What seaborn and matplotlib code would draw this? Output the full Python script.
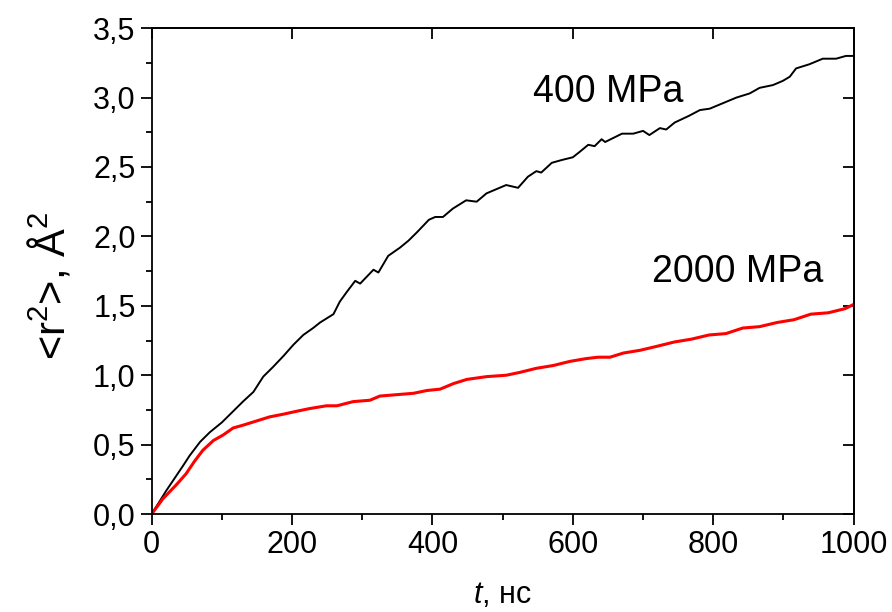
import numpy as np
import pandas as pd
import matplotlib
matplotlib.use("Agg")
import matplotlib.pyplot as plt
import seaborn as sns
from matplotlib.ticker import MultipleLocator, FuncFormatter, NullLocator, NullFormatter

# 400 MPa curve (t in ns, <r^2> in A^2)
t_400 = [0, 21, 45, 54, 69, 83, 100, 116, 130, 145, 159, 173, 188, 202, 216, 230,
         240, 259, 268, 278, 290, 297, 316, 323, 337, 354, 366, 378, 395, 404, 415,
         429, 448, 463, 477, 491, 505, 522, 536, 548, 555, 570, 584, 600, 610, 622,
         631, 641, 646, 658, 670, 686, 700, 709, 724, 733, 745, 766, 781, 795, 814,
         833, 852, 866, 885, 899, 909, 918, 937, 956, 975, 989, 1000]
r2_400 = [0.00, 0.17, 0.35, 0.42, 0.52, 0.59, 0.66, 0.74, 0.81, 0.88, 0.99, 1.06, 1.14,
          1.22, 1.29, 1.34, 1.38, 1.44, 1.53, 1.60, 1.68, 1.66, 1.76, 1.74, 1.86, 1.92,
          1.97, 2.03, 2.12, 2.14, 2.14, 2.20, 2.26, 2.25, 2.31, 2.34, 2.37, 2.35, 2.43,
          2.47, 2.46, 2.53, 2.55, 2.57, 2.61, 2.66, 2.65, 2.70, 2.68, 2.71, 2.74, 2.74,
          2.76, 2.73, 2.78, 2.77, 2.82, 2.87, 2.91, 2.92, 2.96, 3.00, 3.03, 3.07, 3.09,
          3.12, 3.15, 3.21, 3.24, 3.28, 3.28, 3.30, 3.30]

# 2000 MPa curve
t_2000 = [0, 16, 35, 49, 61, 73, 88, 102, 116, 130, 149, 168, 188, 206, 225, 249, 264,
          287, 311, 325, 349, 373, 392, 411, 430, 449, 477, 505, 524, 548, 572, 596,
          619, 636, 653, 672, 696, 721, 745, 769, 794, 818, 842, 866, 891, 915, 939,
          964, 988, 1000]
r2_2000 = [0.00, 0.11, 0.21, 0.29, 0.38, 0.46, 0.53, 0.57, 0.62, 0.64, 0.67, 0.70, 0.72,
           0.74, 0.76, 0.78, 0.78, 0.81, 0.82, 0.85, 0.86, 0.87, 0.89, 0.90, 0.94, 0.97,
           0.99, 1.00, 1.02, 1.05, 1.07, 1.10, 1.12, 1.13, 1.13, 1.16, 1.18, 1.21, 1.24,
           1.26, 1.29, 1.30, 1.34, 1.35, 1.38, 1.40, 1.44, 1.45, 1.48, 1.51]

sns.set_style("ticks")
plt.rcParams["font.family"] = ["Liberation Sans", "DejaVu Sans"]
plt.rcParams["mathtext.fontset"] = "custom"
plt.rcParams["mathtext.rm"] = "Liberation Sans"
plt.rcParams["mathtext.it"] = "Liberation Sans:italic"
for key in ["text.color", "axes.labelcolor", "xtick.color", "ytick.color", "axes.edgecolor"]:
    plt.rcParams[key] = "black"

df_400 = pd.DataFrame({"t": t_400, "r2": r2_400})
df_2000 = pd.DataFrame({"t": t_2000, "r2": r2_2000})

fig = plt.figure(figsize=(8.92, 6.12), dpi=100)
ax = fig.add_axes([0.170, 0.160, 0.787, 0.794])

sns.lineplot(data=df_400, x="t", y="r2", color="black", linewidth=1.4,
             estimator=None, sort=False, ax=ax)
sns.lineplot(data=df_2000, x="t", y="r2", color="#ff0000", linewidth=2.2,
             estimator=None, sort=False, ax=ax)

ax.set_xlim(0, 1000)
ax.set_ylim(0, 3.5)
ax.xaxis.set_major_locator(MultipleLocator(200))
ax.xaxis.set_minor_locator(MultipleLocator(100))
ax.yaxis.set_major_locator(MultipleLocator(0.5))
ax.yaxis.set_minor_locator(MultipleLocator(0.25))
ax.yaxis.set_major_formatter(FuncFormatter(lambda v, p: f"{v:.1f}".replace(".", ",")))
ax.xaxis.set_major_formatter(FuncFormatter(lambda v, p: f"{v:.0f}"))

ax.tick_params(which="major", direction="out", length=8, width=1.3, labelsize=22)
ax.tick_params(which="minor", direction="out", length=4, width=1.3)
for s in ax.spines.values():
    s.set_visible(True)
    s.set_linewidth(1.3)

# mirrored inward ticks on right and top
sec_y = ax.secondary_yaxis("right")
sec_y.yaxis.set_major_locator(MultipleLocator(0.5))
sec_y.yaxis.set_minor_locator(NullLocator())
sec_y.yaxis.set_major_formatter(NullFormatter())
sec_y.tick_params(direction="in", length=8, width=1.3)
sec_y.spines["right"].set_linewidth(1.3)
sec_x = ax.secondary_xaxis("top")
sec_x.xaxis.set_major_locator(MultipleLocator(200))
sec_x.xaxis.set_minor_locator(NullLocator())
sec_x.xaxis.set_major_formatter(NullFormatter())
sec_x.tick_params(direction="in", length=8, width=1.3)
sec_x.spines["top"].set_linewidth(1.3)

ax.set_xlabel(r"$t$, нс", fontsize=22)
ax.xaxis.set_label_coords(0.5, -0.135)
ax.set_ylabel(r"<r$^2$>, Å$^2$", fontsize=30)
ax.yaxis.set_label_coords(-0.112, 0.47)

ax.text(650, 2.97, "400 MPa", fontsize=27, ha="center", va="baseline")
ax.text(835, 1.67, "2000 MPa", fontsize=27, ha="center", va="baseline")

fig.savefig("out.png", dpi=100)
